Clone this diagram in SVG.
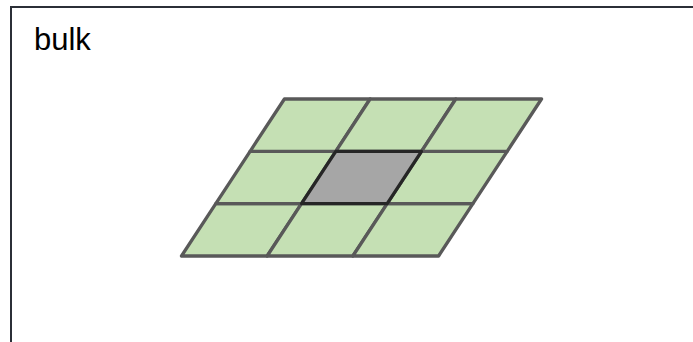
<svg xmlns="http://www.w3.org/2000/svg" width="693" height="342" viewBox="0 0 693 342">
<style>
.cell{fill:#c5e0b4;stroke:#595959;stroke-width:3.3;stroke-linejoin:round}
.center{fill:#a6a6a6;stroke:#262626;stroke-width:3.3;stroke-linejoin:round}
.label{font-family:"Liberation Sans",Arial,sans-serif;font-size:31px;fill:#000}
</style>
<g id="frame">
<rect x="11" y="7" width="700" height="360" fill="#ffffff" stroke="#2b2f37" stroke-width="2"/>
<text class="label" x="34" y="50">bulk</text>
</g>
<g id="grid">
<polygon id="c00" class="cell" points="181.5,256 267.2,256 301.5,203.7 215.8,203.7"/>
<polygon id="c10" class="cell" points="267.2,256 352.9,256 387.2,203.7 301.5,203.7"/>
<polygon id="c20" class="cell" points="352.9,256 438.6,256 472.9,203.7 387.2,203.7"/>
<polygon id="c01" class="cell" points="215.8,203.7 301.5,203.7 335.8,151.3 250.1,151.3"/>
<polygon id="c21" class="cell" points="387.2,203.7 472.9,203.7 507.2,151.3 421.5,151.3"/>
<polygon id="c02" class="cell" points="250.1,151.3 335.8,151.3 370.1,99 284.4,99"/>
<polygon id="c12" class="cell" points="335.8,151.3 421.5,151.3 455.8,99 370.1,99"/>
<polygon id="c22" class="cell" points="421.5,151.3 507.2,151.3 541.5,99 455.8,99"/>
<polygon id="c11" class="center" points="301.5,203.7 387.2,203.7 421.5,151.3 335.8,151.3"/>
</g>
</svg>
